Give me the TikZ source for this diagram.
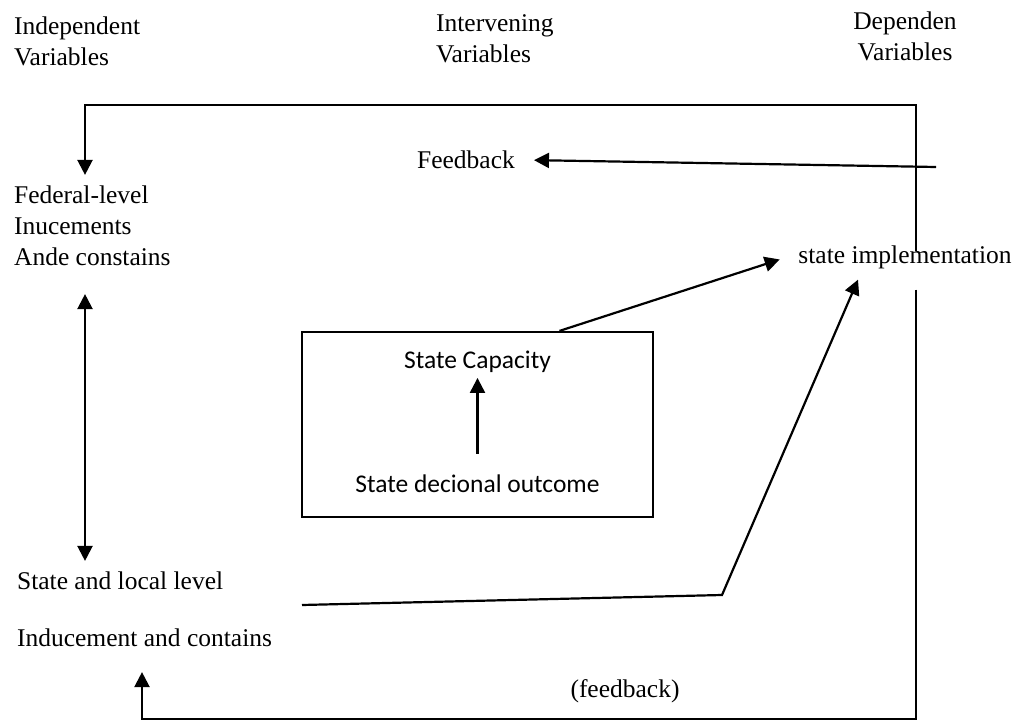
\documentclass[tikz,border=0pt]{standalone}
\usepackage{fontspec}
\setmainfont{Liberation Serif}
\newfontfamily\boxfont{Carlito}
\usetikzlibrary{arrows.meta}

\begin{document}
\begin{tikzpicture}[x=0.5pt,y=-0.5pt,line width=1.1pt,
    lbl/.style={inner sep=5pt, font=\fontsize{12.75}{15.5}\selectfont},
    boxlbl/.style={inner sep=5pt, font=\fontsize{12.75}{15.5}\selectfont\boxfont},
    arr/.style={-{Triangle[length=7.5pt,width=7.5pt]}},
    darr/.style={{Triangle[length=7.5pt,width=7.5pt]}-{Triangle[length=7.5pt,width=7.5pt]}}]
    \useasboundingbox (0,0) rectangle (1016,721);

    %% Column headings
    \node[lbl, anchor=west, align=left] (indep) at (3,41) {Independent\\Variables};
    \node[lbl, anchor=west, align=left] (interv) at (425,39) {Intervening\\Variables};
    \node[lbl, align=center] (dep) at (905,36) {Dependen\\Variables};

    %% Left column
    \node[lbl, anchor=west, align=left] (fed) at (3,226) {Federal-level\\Inucements\\Ande constains};
    \node[lbl, anchor=west] (local) at (6,581) {State and local level};
    \node[lbl, anchor=west] (induce) at (6,638) {Inducement and contains};

    %% Feedback labels and outcome
    \node[lbl] (fbk) at (466,160) {Feedback};
    \node[lbl] (impl) at (905,257) {state implementation};
    \node[lbl] (fbklow) at (625,691) {(feedback)};

    %% Intervening box
    \node[draw, minimum width=175.5pt, minimum height=92.5pt, inner sep=0pt] (box) at (477.5,424.5) {};
    \node[boxlbl] (cap) at (477.5,362) {State Capacity};
    \node[boxlbl] (dec) at (477.5,484) {State decional outcome};

    %% Corners of the feedback loop
    \coordinate (tl) at (85,105);
    \coordinate (tr) at (916,105);
    \coordinate (br) at (916,719);
    \coordinate (bl) at (142,719);
    \coordinate (fbtail) at (936,167);
    \coordinate (lstart) at (302,605);
    \coordinate (lbend) at (722,595);

    \draw[arr, shorten <=-8.5pt] (impl.north -| tr) -- (tr) -- (tl) -- (fed.north -| tl);
    \draw[arr, shorten <=5pt, shorten >=7pt] (impl.south -| tr) -- (br) -- (bl) -- (induce.south -| bl);
    \draw[arr, shorten >=4pt] (fbtail) -- (fbk.east);
    \draw[darr, shorten <=8.5pt] (fed.south -| tl) -- (local.north -| tl);

    %% Into state implementation
    \draw[arr] (lstart) -- (lbend) -- ([xshift=-23.5pt]impl.south);
    \draw[arr, shorten >=4pt] ([xshift=41pt]box.north) -- (impl.west);
    \draw[arr, shorten <=5pt, shorten >=-3pt] (dec) -- (cap);

\end{tikzpicture}
\end{document}
